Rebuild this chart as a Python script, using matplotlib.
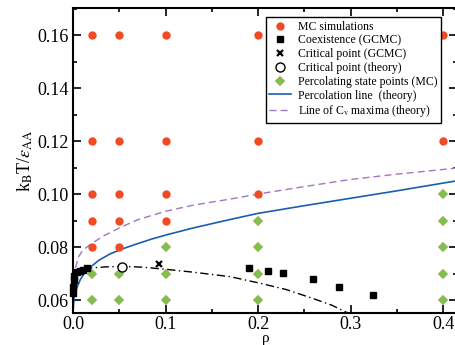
import matplotlib

matplotlib.use("Agg")
import matplotlib.pyplot as plt
from matplotlib.ticker import MultipleLocator, FormatStrFormatter

plt.rcParams["font.family"] = ["Liberation Serif", "DejaVu Serif"]
plt.rcParams["mathtext.fontset"] = "stix"

# MC simulations (non-percolating)
mc_rho = [0.02] * 5 + [0.05] * 5 + [0.1] * 4 + [0.2] * 3 + [0.4] * 2
mc_T = [0.16, 0.12, 0.10, 0.09, 0.08,
        0.16, 0.12, 0.10, 0.09, 0.08,
        0.16, 0.12, 0.10, 0.09,
        0.16, 0.12, 0.10,
        0.16, 0.12]

# percolating state points (MC)
perc_rho = [0.02] * 2 + [0.05] * 2 + [0.1] * 3 + [0.2] * 4 + [0.4] * 5
perc_T = [0.07, 0.06,
          0.07, 0.06,
          0.08, 0.07, 0.06,
          0.09, 0.08, 0.07, 0.06,
          0.10, 0.09, 0.08, 0.07, 0.06]

# coexistence (GCMC)
coex_rho = [0.0005, 0.0005, 0.0008, 0.001, 0.004, 0.0075, 0.011, 0.0155,
            0.190, 0.2105, 0.227, 0.259, 0.287, 0.324]
coex_T = [0.0625, 0.065, 0.0675, 0.069, 0.0705, 0.071, 0.0715, 0.0722,
          0.0721, 0.0711, 0.0701, 0.068, 0.065, 0.062]

crit_gcmc = (0.0933, 0.0735)
crit_theory = (0.0533, 0.0726)

# theory binodal (dash-dot)
bin_rho = [0.012, 0.02, 0.035, 0.053, 0.075, 0.1, 0.13, 0.17, 0.2, 0.23, 0.26, 0.28, 0.297]
bin_T = [0.0715, 0.0721, 0.0725, 0.0727, 0.0724, 0.0716, 0.0705, 0.0688, 0.0665,
         0.0640, 0.0605, 0.0580, 0.0551]

# percolation line (theory)
pl_rho = [0, 0.001, 0.003, 0.0076, 0.012, 0.018, 0.028, 0.04, 0.055, 0.07, 0.085,
          0.1, 0.13, 0.17, 0.2, 0.25, 0.3, 0.35, 0.415]
pl_T = [0.055, 0.0605, 0.0635, 0.0675, 0.0700, 0.0722, 0.0750, 0.0774, 0.0795, 0.0813,
        0.0830, 0.0845, 0.0872, 0.0904, 0.0927, 0.0956, 0.0984, 0.1012, 0.1050]

# line of Cv maxima (theory)
cv_rho = [0.001, 0.003, 0.006, 0.01, 0.018, 0.033, 0.05, 0.07, 0.1, 0.13, 0.17,
          0.2, 0.25, 0.3, 0.35, 0.415]
cv_T = [0.068, 0.0725, 0.0763, 0.0785, 0.0808, 0.0842, 0.0872, 0.0903, 0.0935, 0.0958,
        0.0981, 0.1000, 0.1028, 0.1055, 0.1075, 0.1098]

RED = "#f14a24"
GREEN = "#7cc04f"
BLUE = "#1a5eb0"
PURPLE = "#a374c4"

fig = plt.figure(figsize=(4.55, 3.45), dpi=100)
ax = fig.add_axes([73 / 455, 1 - 313 / 345, 384 / 455, 305 / 345])

ax.plot(bin_rho, bin_T, color="black", lw=1.0, dashes=(6, 2.5, 1, 2.5), zorder=2)
ax.plot(pl_rho, pl_T, color=BLUE, lw=1.2, label="Percolation line  (theory)", zorder=2)
ax.plot(cv_rho, cv_T, color=PURPLE, lw=1.0, dashes=(5, 3),
        label="Line of C$_\\mathrm{v}$ maxima (theory)", zorder=2)

ax.plot(mc_rho, mc_T, "o", color=RED, ms=6, mec="none", label="MC simulations", zorder=3)
ax.plot(coex_rho, coex_T, "s", color="black", ms=5, label="Coexistence (GCMC)",
        zorder=4, clip_on=False)
ax.plot(*crit_gcmc, "x", color="black", ms=5, mew=1.6, label="Critical point (GCMC)", zorder=4)
ax.plot(*crit_theory, "o", mfc="white", mec="black", ms=6.5, mew=1.0,
        label="Critical point (theory)", zorder=4)
ax.plot(perc_rho, perc_T, "D", color=GREEN, ms=5, mec="#e0a070", mew=0.3,
        label="Percolating state points (MC)", zorder=3)

handles, labels = ax.get_legend_handles_labels()
order = ["MC simulations", "Coexistence (GCMC)", "Critical point (GCMC)",
         "Critical point (theory)", "Percolating state points (MC)",
         "Percolation line  (theory)", "Line of C$_\\mathrm{v}$ maxima (theory)"]
hmap = dict(zip(labels, handles))
leg = ax.legend([hmap[k] for k in order], order, loc="upper right",
                bbox_to_anchor=(0.958, 0.970), borderaxespad=0, fontsize=8.5,
                labelspacing=0.15, handlelength=1.8, handletextpad=0.6,
                fancybox=False, framealpha=1, edgecolor="black", borderpad=0.3)
leg.get_frame().set_linewidth(1.0)
leg.set_zorder(5)

ax.set_xlim(0, 0.415)
ax.set_ylim(0.0551, 0.1702)
ax.xaxis.set_major_locator(MultipleLocator(0.1))
ax.xaxis.set_minor_locator(MultipleLocator(0.05))
ax.yaxis.set_major_locator(MultipleLocator(0.02))
ax.yaxis.set_minor_locator(MultipleLocator(0.01))
ax.xaxis.set_major_formatter(FormatStrFormatter("%.1f"))
ax.yaxis.set_major_formatter(FormatStrFormatter("%.2f"))
ax.tick_params(which="both", direction="in", top=True, right=True, labelsize=13, width=1.2)
ax.tick_params(which="major", length=6, pad=3)
ax.tick_params(axis="x", which="major", pad=2)
ax.tick_params(which="minor", length=3)
for sp in ax.spines.values():
    sp.set_linewidth(1.5)

ax.set_xlabel("ρ", fontsize=11)
ax.xaxis.set_label_coords((266 - 73) / 384, -(342 - 313) / 305)
ax.xaxis.label.set_verticalalignment("baseline")
ax.set_ylabel("k$_\\mathrm{B}$T/$\\varepsilon_\\mathrm{AA}$", fontsize=13, labelpad=2)

fig.savefig("out.png", dpi=100)
